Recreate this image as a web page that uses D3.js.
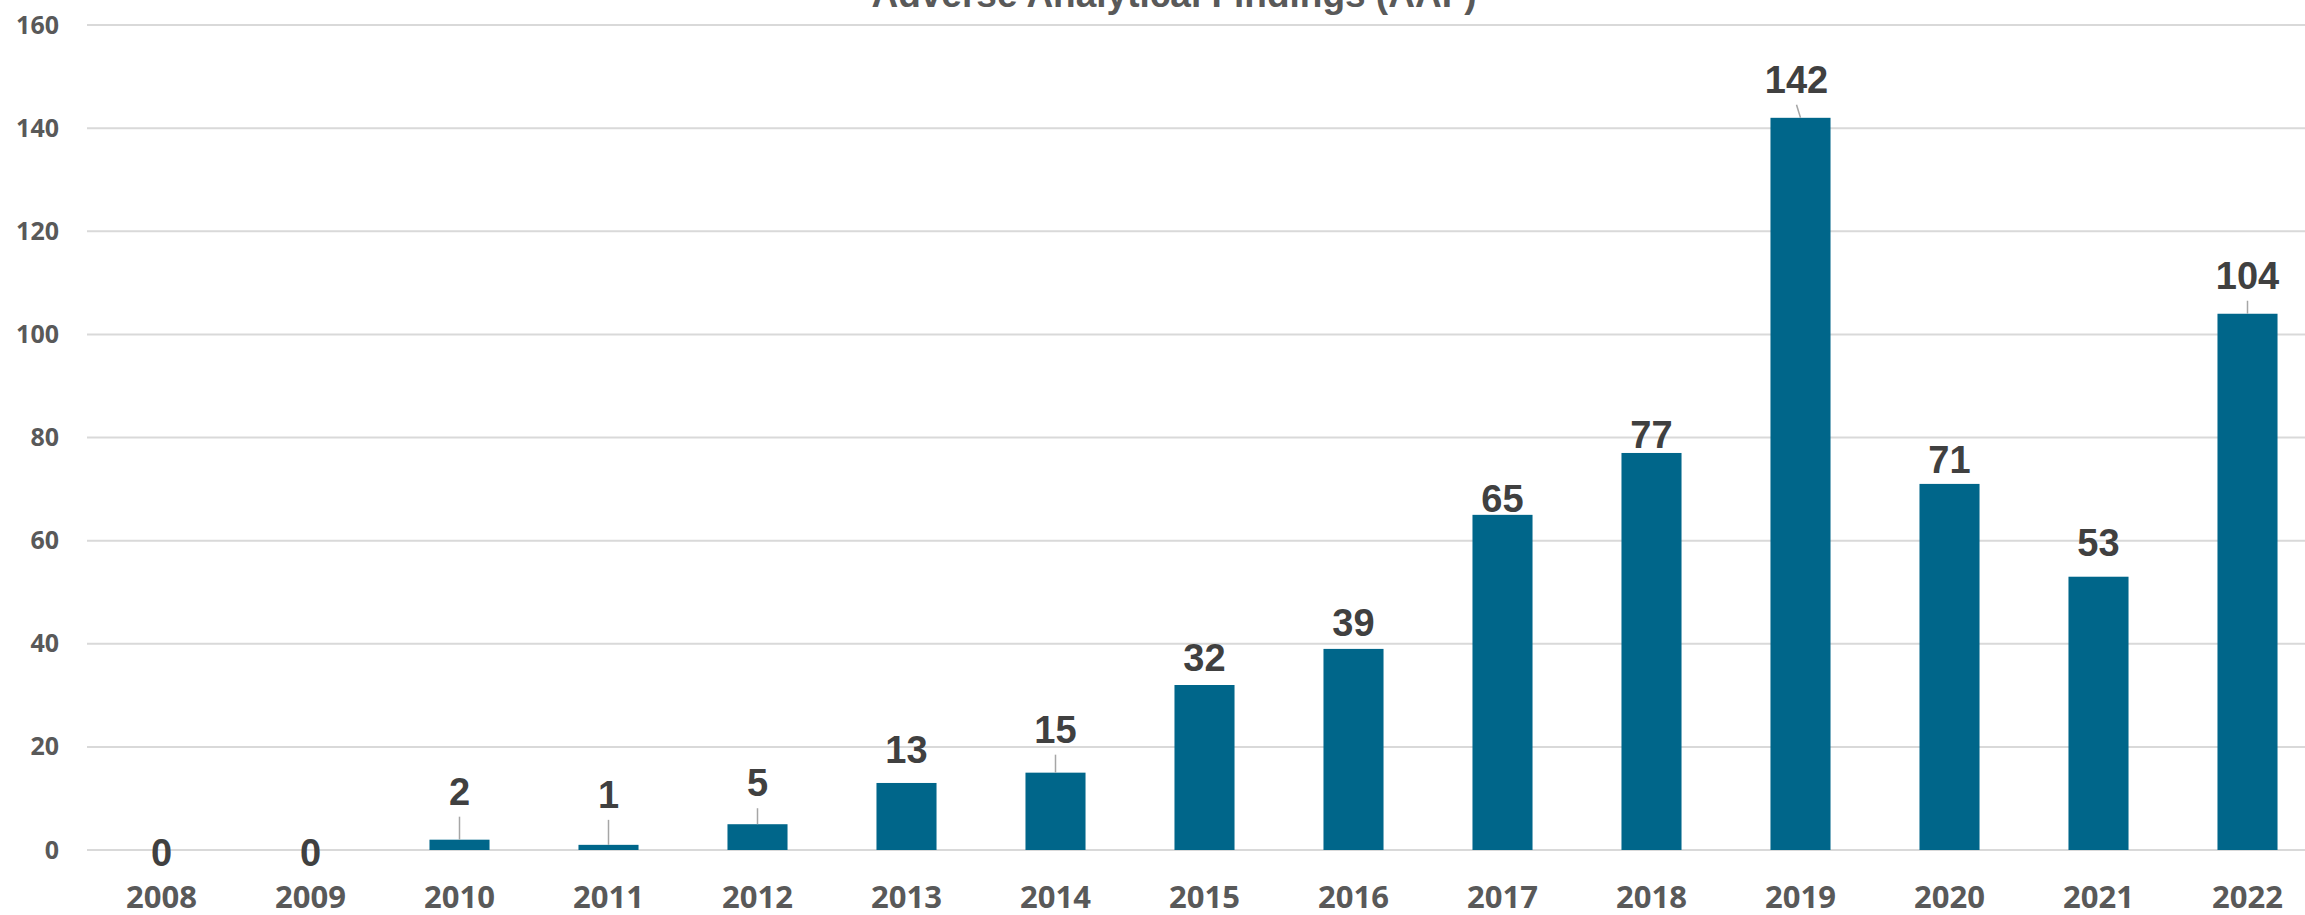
<!DOCTYPE html>
<html>
<head>
<meta charset="utf-8">
<script src="https://cdn.jsdelivr.net/npm/d3@7"></script>
<style>
  html, body { margin: 0; padding: 0; background: #ffffff; overflow: hidden; }
  #container svg { display: block; }
</style>
</head>
<body>
<div id="container"></div>
<script>
const years = ['2008','2009','2010','2011','2012','2013','2014','2015','2016','2017','2018','2019','2020','2021','2022']
const aaf = [0, 0, 2, 1, 5, 13, 15, 32, 39, 65, 77, 142, 71, 53, 104]
const yTicks = [0, 20, 40, 60, 80, 100, 120, 140, 160]
const title = 'Adverse Analytical Findings (AAF)'

// how far each label sits above its bar (px), labels were dragged by hand in the original
const labelLift = [-16, -16, 35, 37, 28, 20, 30, 14, 13, 3, 5, 25, 11, 21, 25]
const labelShift = [0, 0, 0, 0, 0, 0, 0, 0, 0, 0, 0, -4, 0, 0, 0]

const width = 2305, height = 915
const left = 87, zeroY = 850, topY = 25
const step = 149

const svg = d3.select('#container')
  .append('svg')
  .attr('width', width)
  .attr('height', height)

const x = d3.scaleBand()
  .domain(years)
  .range([left, left + step * years.length])
  .paddingInner(0.597)
  .paddingOuter(0.2985)

const y = d3.scaleLinear()
  .domain([0, 160])
  .range([zeroY, topY])

// gridlines
svg.append('g')
  .selectAll('line')
  .data(yTicks)
  .enter()
  .append('line')
  .attr('x1', left)
  .attr('x2', width)
  .attr('y1', d => y(d))
  .attr('y2', d => y(d))
  .attr('stroke', '#d9d9d9')
  .attr('stroke-width', 2)

// y labels
const yAxis = svg.append('g')
  .attr('transform', 'translate(59,0)')
  .call(d3.axisLeft(y).tickValues(yTicks).tickSize(0).tickPadding(0))
yAxis.select('.domain').remove()
yAxis.selectAll('text')
  .attr('dy', '0.32em')
  .style('font-family', '"Open Sans", "DejaVu Sans", sans-serif')
  .style('font-weight', 'bold')
  .style('font-size', '25px')
  .attr('fill', '#595959')

// x labels
const xAxis = svg.append('g')
  .attr('transform', `translate(0, ${zeroY})`)
  .call(d3.axisBottom(x).tickSize(0).tickPadding(0))
xAxis.select('.domain').remove()
xAxis.selectAll('text')
  .attr('y', 58)
  .attr('dy', 0)
  .style('font-family', '"Open Sans", "DejaVu Sans", sans-serif')
  .style('font-weight', 'bold')
  .style('font-size', '31px')
  .attr('fill', '#595959')

// bars
svg.selectAll('rect.bar')
  .data(aaf)
  .enter()
  .append('rect')
  .attr('class', 'bar')
  .attr('x', (d, i) => x(years[i]))
  .attr('y', d => y(d))
  .attr('width', x.bandwidth())
  .attr('height', d => y(0) - y(d))
  .attr('fill', '#00668a')

// leader lines for labels pulled away from their bars
svg.selectAll('line.leader')
  .data(aaf.map((d, i) => ({v: d, i: i})).filter(d => labelLift[d.i] > 22))
  .enter()
  .append('line')
  .attr('class', 'leader')
  .attr('x1', d => x(years[d.i]) + x.bandwidth() / 2 + labelShift[d.i])
  .attr('y1', d => y(d.v) - labelLift[d.i] + 12)
  .attr('x2', d => x(years[d.i]) + x.bandwidth() / 2)
  .attr('y2', d => y(d.v))
  .attr('stroke', '#a6a6a6')
  .attr('stroke-width', 1.5)

// value labels
svg.selectAll('text.value')
  .data(aaf)
  .enter()
  .append('text')
  .attr('class', 'value')
  .attr('x', (d, i) => x(years[i]) + x.bandwidth() / 2 + labelShift[i])
  .attr('y', (d, i) => y(d) - labelLift[i])
  .attr('text-anchor', 'middle')
  .style('font-family', '"Liberation Sans", Arial, sans-serif')
  .style('font-weight', 'bold')
  .style('font-size', '38px')
  .attr('fill', '#404040')
  .text(d => d)

// title, cut off by the top edge like the original
svg.append('text')
  .attr('x', 1174)
  .attr('y', 7)
  .attr('text-anchor', 'middle')
  .style('font-family', '"Liberation Sans", Arial, sans-serif')
  .style('font-weight', 'bold')
  .style('font-size', '37px')
  .attr('fill', '#595959')
  .text(title)
</script>
</body>
</html>
